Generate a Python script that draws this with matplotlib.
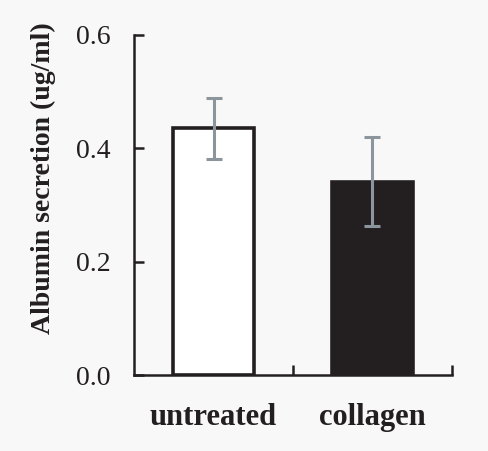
import matplotlib.pyplot as plt

categories = ["untreated", "collagen"]
means = [0.436, 0.341]
err_low = [0.381, 0.263]
err_high = [0.489, 0.420]
fills = ["white", "#231f20"]

plt.rcParams["font.family"] = ["Liberation Serif"]

fig = plt.figure(figsize=(4.88, 4.51), dpi=100, facecolor="#f8f8f8")
ax = fig.add_axes([0.2746, 0.1685, 0.6516, 0.7539])
ax.set_facecolor("#f8f8f8")

x = [0.5, 1.5]
ax.bar(x, means, width=0.51, color=fills, edgecolor="#231f20", linewidth=2.6, zorder=2)
yerr = [[m - lo for m, lo in zip(means, err_low)], [hi - m for m, hi in zip(means, err_high)]]
ax.errorbar(x, means, yerr=yerr, fmt="none", ecolor="#8c959c", elinewidth=2.2,
            capsize=6, capthick=2.2, zorder=3)

ax.set_xlim(0, 2)
ax.set_ylim(0, 0.6)
ax.set_yticks([0.0, 0.2, 0.4, 0.6])
ax.set_yticklabels(["0.0", "0.2", "0.4", "0.6"], fontsize=20, color="#231f20")
ax.set_xticks(x)
ax.set_xticklabels(categories, fontsize=22, fontweight="bold", color="#231f20")
ax.tick_params(axis="x", length=0, pad=20)
ax.set_xticks([1, 2], minor=True)
ax.tick_params(axis="x", which="minor", direction="in", length=7, width=1.8, color="#231f20")
ax.tick_params(axis="y", direction="in", length=7, width=1.8, color="#231f20", pad=17)

for s in ["top", "right"]:
    ax.spines[s].set_visible(False)
for s in ["left", "bottom"]:
    ax.spines[s].set_linewidth(1.8)
    ax.spines[s].set_color("#231f20")

ax.set_ylabel("Albumin secretion (ug/ml)", fontsize=20, fontweight="bold", color="#231f20")
ax.yaxis.set_label_coords(-0.245, 0.58)

fig.savefig("out.png", dpi=100, facecolor=fig.get_facecolor())
